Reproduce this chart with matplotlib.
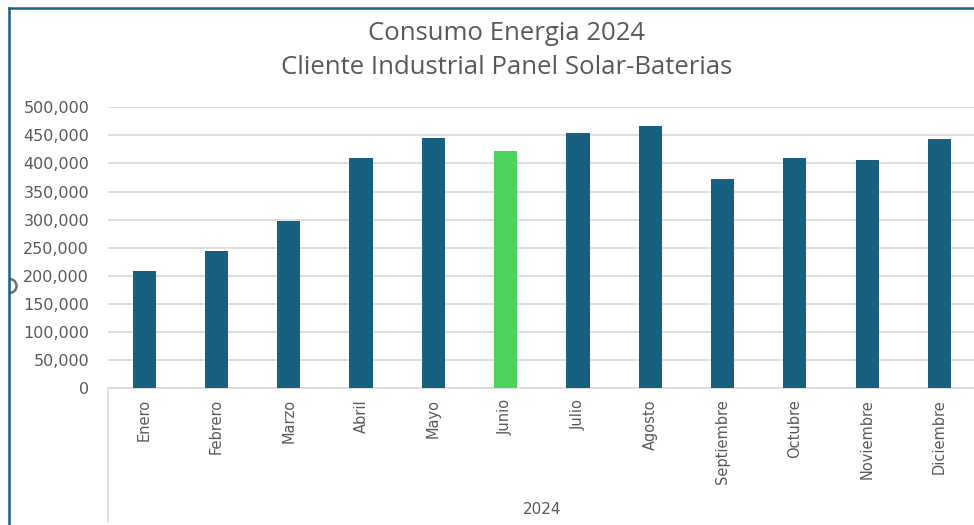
import matplotlib
matplotlib.use("Agg")
import matplotlib.pyplot as plt
from matplotlib.lines import Line2D
from matplotlib.patches import Arc
from matplotlib.ticker import FuncFormatter, MultipleLocator

months = ["Enero", "Febrero", "Marzo", "Abril", "Mayo", "Junio", "Julio",
          "Agosto", "Septiembre", "Octubre", "Noviembre", "Diciembre"]
consumo = [209000, 244000, 298000, 409000, 446000, 422000, 455000,
           466000, 373000, 409000, 406000, 444000]
highlight = "Junio"
year_label = "2024"
title1 = "Consumo Energia 2024"
title2 = "Cliente Industrial Panel Solar-Baterias"

W, H = 974, 525
fig = plt.figure(figsize=(W / 100, H / 100), dpi=100)
fig.patch.set_facecolor("white")

TXT = "#595959"
BAR = "#17607F"
GREEN = "#4AD45B"
GRID = "#D9D9D9"
BORDER = "#1C5F86"

def fx(px):
    return px / W

def fy(py):
    return 1 - py / H

left, right = 108, 975.6
top, bottom = 107.3, 388
ax = fig.add_axes([fx(left), fy(bottom), fx(right - left), (bottom - top) / H])

x = list(range(len(months)))
colors = [GREEN if m == highlight else BAR for m in months]
ax.bar(x, consumo, width=0.32, color=colors, zorder=3)
ax.set_xlim(-0.5, len(months) - 0.5)
ax.set_ylim(0, 500000)
ax.yaxis.set_major_locator(MultipleLocator(50000))
ax.yaxis.set_major_formatter(FuncFormatter(lambda v, p: f"{int(v):,}"))
ax.grid(axis="y", color=GRID, linewidth=1.2, zorder=0)
ax.set_axisbelow(True)
for s in ["top", "right", "left"]:
    ax.spines[s].set_visible(False)
ax.spines["bottom"].set_color(GRID)
ax.spines["bottom"].set_linewidth(1.2)
ax.set_xticks(x)
ax.set_xticklabels(months, rotation=90, fontsize=10.5, color=TXT,
                   family="DejaVu Sans", va="top", ha="center")
ax.tick_params(axis="x", length=0, pad=8)
ax.tick_params(axis="y", length=0, pad=13.5, labelsize=11.5, labelcolor=TXT)

# category box left line
fig.add_artist(Line2D([fx(left), fx(left)], [fy(388), fy(521)],
                      color=GRID, linewidth=1.2))
# group label
fig.text(fx((left + right) / 2), fy(509), year_label, ha="center", va="center",
         fontsize=11, color=TXT)

# titles
fig.text(fx(507), fy(40), title1, ha="center", va="baseline", fontsize=18.5,
         color=TXT, family="Open Sans")
fig.text(fx(507), fy(74), title2, ha="center", va="baseline", fontsize=18.5,
         color=TXT, family="Open Sans")

# chart border (left and top)
fig.add_artist(Line2D([fx(8.7), fx(8.7)], [fy(7.8), 0], color=BORDER, linewidth=1.8))
fig.add_artist(Line2D([fx(8.7), 1], [fy(7.8), fy(7.8)], color=BORDER, linewidth=1.8))
# selection handle
fig.add_artist(Arc((fx(9.5), fy(286)), fx(14), 14 / H, theta1=-90, theta2=90,
                   color="#6E6E6E", linewidth=1.8, transform=fig.transFigure))

fig.savefig("out.png", dpi=100)
